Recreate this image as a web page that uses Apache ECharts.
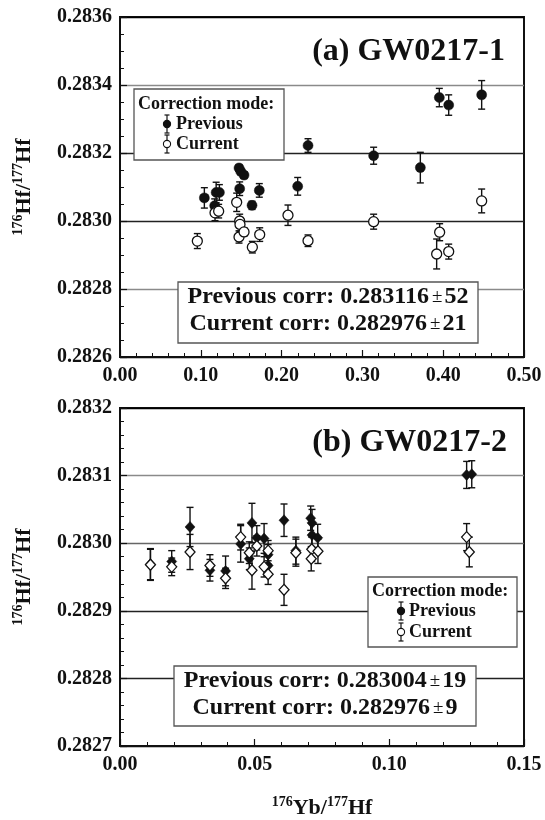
<!DOCTYPE html>
<html>
<head>
<meta charset="utf-8">
<script src="https://cdn.jsdelivr.net/npm/echarts@6/dist/echarts.min.js"></script>
<style>
  html, body { margin: 0; padding: 0; background: #fff; }
  #chart { width: 545px; height: 820px; }
</style>
</head>
<body>
<div id="chart"></div>
<script>
// ---- Panel (a) GW0217-1 : previous vs current correction ----
const aPrevX   = [0.1044, 0.1172, 0.1190, 0.1230, 0.1473, 0.1494, 0.1535, 0.1481, 0.1634, 0.1724, 0.2199, 0.2327, 0.3139, 0.3717, 0.3952, 0.4068, 0.4476];
const aPrevY   = [0.283068, 0.283045, 0.283084, 0.283084, 0.283156, 0.283146, 0.283135, 0.283095, 0.283046, 0.283090, 0.283102, 0.283222, 0.283192, 0.283157, 0.283363, 0.283341, 0.283371];
const aPrevErr = [0.000030, 0.000020, 0.000030, 0.000023, 0.000010, 0.000010, 0.000010, 0.000020, 0.000012, 0.000020, 0.000026, 0.000020, 0.000025, 0.000045, 0.000027, 0.000030, 0.000042];

const aCurX    = [0.0957, 0.1176, 0.1221, 0.1444, 0.1473, 0.1481, 0.1485, 0.1535, 0.1638, 0.1729, 0.2079, 0.2327, 0.3139, 0.3919, 0.3956, 0.4068, 0.4476];
const aCurY    = [0.282941, 0.283024, 0.283029, 0.283055, 0.282953, 0.283000, 0.282990, 0.282968, 0.282923, 0.282960, 0.283017, 0.282942, 0.282998, 0.282903, 0.282967, 0.282910, 0.283059];
const aCurErr  = [0.000022, 0.000023, 0.000020, 0.000027, 0.000018, 0.000020, 0.000020, 0.000012, 0.000017, 0.000020, 0.000030, 0.000017, 0.000022, 0.000044, 0.000025, 0.000022, 0.000035];

// ---- Panel (b) GW0217-2 ----
const bPrevX   = [0.0113, 0.0192, 0.0260, 0.0334, 0.0392, 0.0448, 0.0480, 0.0490, 0.0508, 0.0535, 0.0550, 0.0550, 0.0609, 0.0653, 0.0708, 0.0713, 0.0713, 0.0734, 0.1287, 0.1306];
const bPrevY   = [0.282969, 0.282973, 0.283024, 0.282960, 0.282959, 0.282999, 0.282977, 0.283030, 0.283008, 0.283007, 0.282983, 0.282967, 0.283034, 0.282989, 0.283037, 0.283030, 0.283012, 0.283008, 0.283101, 0.283102];
const bPrevErr = [0.000023, 0.000016, 0.000029, 0.000016, 0.000022, 0.000027, 0.000016, 0.000029, 0.000018, 0.000022, 0.000015, 0.000015, 0.000024, 0.000020, 0.000018, 0.000020, 0.000018, 0.000020, 0.000020, 0.000020];

const bCurX    = [0.0113, 0.0192, 0.0260, 0.0334, 0.0392, 0.0448, 0.0480, 0.0490, 0.0508, 0.0535, 0.0550, 0.0550, 0.0609, 0.0653, 0.0712, 0.0710, 0.0735, 0.1287, 0.1297];
const bCurY    = [0.282968, 0.282965, 0.282987, 0.282967, 0.282948, 0.283009, 0.282986, 0.282960, 0.282996, 0.282965, 0.282954, 0.282989, 0.282931, 0.282986, 0.282991, 0.282977, 0.282988, 0.283009, 0.282987];
const bCurErr  = [0.000023, 0.000013, 0.000026, 0.000016, 0.000015, 0.000019, 0.000016, 0.000028, 0.000015, 0.000015, 0.000015, 0.000015, 0.000023, 0.000020, 0.000018, 0.000018, 0.000018, 0.000020, 0.000022];

// Panel titles, legend and weighted-mean summaries
const panelTitles = ['(a) GW0217-1', '(b) GW0217-2'];
const legendTitle = 'Correction mode:';
const seriesNames = ['Previous', 'Current'];
const summaries = [
  [['Previous corr: 0.283116', '52'], ['Current corr: 0.282976', '21']],
  [['Previous corr: 0.283004', '19'], ['Current corr: 0.282976', '9']]
];

// Axis ranges and ticks
const aXAxis = { min: 0, max: 0.5, interval: 0.1 };
const aYAxis = { min: 0.2826, max: 0.2836, interval: 0.0002 };
const bXAxis = { min: 0, max: 0.15, interval: 0.05 };
const bYAxis = { min: 0.2827, max: 0.2832, interval: 0.0001 };

const SERIF = '"Liberation Serif", "Times New Roman", serif';
const INK = '#111';

function zip3(xs, ys, es) {
  return xs.map((x, i) => [x, ys[i], es[i]]);
}

// vertical error bar with caps
function errorBars(name, gridIdx, data, z) {
  return {
    name: name,
    type: 'custom',
    xAxisIndex: gridIdx,
    yAxisIndex: gridIdx,
    data: data,
    encode: { x: 0, y: 1 },
    z: z,
    silent: true,
    renderItem: function (params, api) {
      const x = api.value(0), y = api.value(1), e = api.value(2);
      const top = api.coord([x, y + e]);
      const bot = api.coord([x, y - e]);
      const hw = 3.5;
      const style = { stroke: INK, lineWidth: 1.4 };
      return {
        type: 'group',
        children: [
          { type: 'line', shape: { x1: top[0], y1: top[1], x2: bot[0], y2: bot[1] }, style: style },
          { type: 'line', shape: { x1: top[0] - hw, y1: top[1], x2: top[0] + hw, y2: top[1] }, style: style },
          { type: 'line', shape: { x1: bot[0] - hw, y1: bot[1], x2: bot[0] + hw, y2: bot[1] }, style: style }
        ]
      };
    }
  };
}

function points(name, gridIdx, data, symbol, size, filled, z) {
  return {
    name: name,
    type: 'scatter',
    xAxisIndex: gridIdx,
    yAxisIndex: gridIdx,
    data: data.map(d => [d[0], d[1]]),
    symbol: symbol,
    symbolSize: size,
    z: z,
    itemStyle: {
      color: filled ? INK : '#fff',
      borderColor: INK,
      borderWidth: filled ? 0.5 : 1.3,
      opacity: 1
    }
  };
}

const supRich = {
  b: { fontFamily: SERIF, fontWeight: 'bold', fontSize: 22, color: INK, lineHeight: 26 },
  s: { fontFamily: SERIF, fontWeight: 'bold', fontSize: 14, color: INK, lineHeight: 14, verticalAlign: 'top' }
};

function xAxisCfg(gridIdx, r, digits, showName) {
  return {
    type: 'value',
    gridIndex: gridIdx,
    min: r.min, max: r.max, interval: r.interval,
    name: showName ? '{s|176}{b|Yb/}{s|177}{b|Hf}' : '',
    nameLocation: 'middle',
    nameGap: 49,
    nameTextStyle: { rich: supRich },
    axisLine: { show: true, onZero: false, lineStyle: { color: INK, width: 2 } },
    axisTick: { show: true, inside: true, length: 7, lineStyle: { color: INK, width: 1.2 } },
    minorTick: { show: true, splitNumber: 5, length: 4, lineStyle: { color: INK, width: 1 } },
    splitLine: { show: false },
    axisLabel: {
      margin: 9,
      color: INK,
      fontFamily: SERIF, fontWeight: 'bold', fontSize: 20,
      formatter: v => v.toFixed(digits)
    }
  };
}

function yAxisCfg(gridIdx, r, minorSplit, gridColors) {
  return {
    type: 'value',
    gridIndex: gridIdx,
    min: r.min, max: r.max, interval: r.interval,
    name: '{s|176}{b|Hf/}{s|177}{b|Hf}',
    nameLocation: 'middle',
    nameGap: 83,
    nameTextStyle: { rich: supRich },
    axisLine: { show: true, lineStyle: { color: INK, width: 2 } },
    axisTick: { show: true, inside: true, length: 7, lineStyle: { color: INK, width: 1.2 } },
    minorTick: { show: true, splitNumber: minorSplit, length: 4, lineStyle: { color: INK, width: 1 } },
    splitLine: { show: true, lineStyle: { color: gridColors, width: 1.3 } },
    axisLabel: {
      margin: 8,
      color: INK,
      fontFamily: SERIF, fontWeight: 'bold', fontSize: 20,
      formatter: v => v.toFixed(4)
    }
  };
}

// legend box drawn as graphic elements: x/y is the box's top-left corner
function legendBox(x, y, w, h, markX, textX, rows) {
  const children = [
    { type: 'rect', shape: { x: x, y: y, width: w, height: h }, style: { fill: '#fff', stroke: '#555', lineWidth: 1.3 }, z: 10 },
    { type: 'text', x: x + 4, y: rows[0], style: { text: legendTitle, font: 'bold 18px ' + SERIF, fill: INK, verticalAlign: 'middle' }, z: 11 }
  ];
  seriesNames.forEach((nm, i) => {
    const cy = rows[i + 1];
    const st = { stroke: INK, lineWidth: 1.2 };
    children.push(
      { type: 'line', shape: { x1: markX, y1: cy - 9, x2: markX, y2: cy + 9 }, style: st, z: 11 },
      { type: 'line', shape: { x1: markX - 2.5, y1: cy - 9, x2: markX + 2.5, y2: cy - 9 }, style: st, z: 11 },
      { type: 'line', shape: { x1: markX - 2.5, y1: cy + 9, x2: markX + 2.5, y2: cy + 9 }, style: st, z: 11 },
      { type: 'circle', shape: { cx: markX, cy: cy, r: 3.6 }, style: { fill: i === 0 ? INK : '#fff', stroke: INK, lineWidth: 1.1 }, z: 12 },
      { type: 'text', x: textX, y: cy, style: { text: nm, font: 'bold 18px ' + SERIF, fill: INK, verticalAlign: 'middle' }, z: 11 }
    );
  });
  return { type: 'group', children: children };
}

function summaryBox(x, y, w, h, lines) {
  const cx = x + w / 2;
  const rich = {
    b: { fontFamily: SERIF, fontWeight: 'bold', fontSize: 24, fill: INK, color: INK },
    p: { fontFamily: SERIF, fontWeight: 'normal', fontSize: 19, fill: INK, color: INK, padding: [0, 2, 0, 3] }
  };
  return {
    type: 'group',
    children: [
      { type: 'rect', shape: { x: x, y: y, width: w, height: h }, style: { fill: '#fff', stroke: '#555', lineWidth: 1.3 }, z: 10 },
      { type: 'text', x: cx, y: y + 15, style: { text: '{b|' + lines[0][0] + '}{p|±}{b|' + lines[0][1] + '}', rich: rich, align: 'center', verticalAlign: 'middle' }, z: 11 },
      { type: 'text', x: cx, y: y + 42, style: { text: '{b|' + lines[1][0] + '}{p|±}{b|' + lines[1][1] + '}', rich: rich, align: 'center', verticalAlign: 'middle' }, z: 11 }
    ]
  };
}

const aPrev = zip3(aPrevX, aPrevY, aPrevErr);
const aCur  = zip3(aCurX, aCurY, aCurErr);
const bPrev = zip3(bPrevX, bPrevY, bPrevErr);
const bCur  = zip3(bCurX, bCurY, bCurErr);

const chart = echarts.init(document.getElementById('chart'), null, { renderer: 'canvas' });

chart.setOption({
  backgroundColor: '#fff',
  animation: false,
  grid: [
    { left: 120, top: 17, width: 404, height: 340, show: true, borderColor: INK, borderWidth: 2, backgroundColor: 'transparent' },
    { left: 120, top: 408, width: 404, height: 340, show: true, borderColor: INK, borderWidth: 2, backgroundColor: 'transparent' }
  ],
  xAxis: [
    xAxisCfg(0, aXAxis, 2, false),
    xAxisCfg(1, bXAxis, 2, true)
  ],
  yAxis: [
    yAxisCfg(0, aYAxis, 4, ['#000', '#8a8a8a', '#222', '#222', '#8a8a8a', '#000']),
    yAxisCfg(1, bYAxis, 5, ['#000', '#222', '#222', '#666', '#8a8a8a', '#000'])
  ],
  series: [
    errorBars('Previous', 0, aPrev, 2),
    points('Previous', 0, aPrev, 'circle', 10, true, 3),
    errorBars('Current', 0, aCur, 4),
    points('Current', 0, aCur, 'circle', 10, false, 5),

    errorBars('Previous', 1, bPrev, 2),
    points('Previous', 1, bPrev, 'diamond', [10, 11], true, 3),
    errorBars('Current', 1, bCur, 4),
    points('Current', 1, bCur, 'diamond', [10, 11], false, 5)
  ],
  graphic: [
    { type: 'text', x: 505, y: 52, style: { text: panelTitles[0], font: 'bold 32px ' + SERIF, fill: INK, align: 'right', verticalAlign: 'middle' }, z: 11 },
    { type: 'text', x: 507, y: 443, style: { text: panelTitles[1], font: 'bold 32px ' + SERIF, fill: INK, align: 'right', verticalAlign: 'middle' }, z: 11 },
    legendBox(134, 89, 150, 71, 167, 176, [104, 124, 144]),
    legendBox(368, 577, 149, 70, 401, 409, [591, 611, 632]),
    summaryBox(178, 282, 300, 61, summaries[0]),
    summaryBox(174, 666, 302, 60, summaries[1])
  ]
});
</script>
</body>
</html>
